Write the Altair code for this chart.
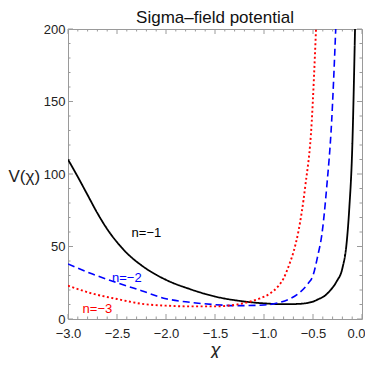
import altair as alt
import pandas as pd

# ---- data ----
chi_n1 = [-3.0, -2.9, -2.8, -2.7, -2.6, -2.5, -2.4, -2.25, -2.0, -1.75, -1.5, -1.25,
          -1.0, -0.8, -0.65, -0.5, -0.45, -0.38, -0.327, -0.258, -0.20, -0.156,
          -0.13, -0.099, -0.071]
v_n1 = [110, 98, 85.5, 73, 62, 53, 45.5, 37, 27, 20.5, 15.5, 12.5,
        10.8, 10.2, 10.4, 12, 13.5, 16, 19.5, 26, 35, 53,
        76, 119, 200]

chi_n2 = [-3.0, -2.75, -2.5, -2.25, -2.0, -1.75, -1.5, -1.25, -1.0, -0.85, -0.75,
          -0.65, -0.55, -0.5, -0.45, -0.41, -0.36, -0.31, -0.268]
v_n2 = [38, 31, 25, 19.5, 14, 11.5, 9.9, 9.2, 9.7, 11.2, 13.5,
        17.5, 24.5, 30, 44, 58, 91, 136, 200]

chi_n3 = [-3.0, -2.75, -2.5, -2.25, -2.0, -1.75, -1.5, -1.35, -1.2, -1.05, -0.94,
          -0.85, -0.8, -0.74, -0.7, -0.65, -0.58, -0.513, -0.469]
v_n3 = [23, 17.5, 13.8, 10.5, 9.2, 8.7, 8.7, 9.3, 11, 14, 17.5,
        23, 28, 38, 46, 60, 91, 136, 200]

series_names = ["n=−1", "n=−2", "n=−3"]
series_colors = ["#000000", "#0000ff", "#ff0000"]
series_dash = [[1, 0], [7, 4], [2, 2.5]]
series_width = [1.8, 1.6, 1.9]

label_chi = [-2.2, -2.4, -2.7]
label_v = [59, 28.5, 7]

x_major = [-3.0, -2.5, -2.0, -1.5, -1.0, -0.5, 0.0]
y_major = [0, 50, 100, 150, 200]
x_minor = [round(-3 + 0.1 * i, 2) for i in range(31) if i % 5 != 0]
y_minor = [10 * i for i in range(21) if i % 5 != 0]

W = 294
H = 290
FONT = "Liberation Sans"
FRAME = "#9a9a9a"

xs = alt.Scale(domain=[-3, 0], nice=False, zero=False)
ys = alt.Scale(domain=[0, 200], nice=False, zero=False)

x_axis = alt.Axis(values=x_major, format=".1f", ticks=False, tickSize=0,
                  domain=False, grid=False, labelFontSize=13, labelFlush=False,
                  labelFont=FONT, labelColor="#222222", labelPadding=8,
                  labelOffset={"condition": {"test": "datum.value == 0", "value": -6},
                               "value": 0},
                  title="χ", titleFont=FONT, titleFontSize=19,
                  titleFontStyle="italic", titleFontWeight="normal",
                  titleColor="#222222", titleBaseline="middle", titleY=30)
y_axis = alt.Axis(values=y_major, ticks=False, tickSize=0, domain=False,
                  grid=False, labelFontSize=13, labelFont=FONT, labelFlush=False,
                  labelColor="#222222", labelPadding=3,
                  title="V(χ)", titleFont=FONT, titleFontSize=17,
                  titleFontWeight="normal", titleColor="#222222",
                  titleAngle=0, titleAlign="left", titleBaseline="middle",
                  titleX=-60, titleY=147)


def X(field):
    return alt.X(field, scale=xs, axis=x_axis, title="χ")


def Y(field):
    return alt.Y(field, scale=ys, axis=y_axis, title="V(χ)")


layers = []

# frame ticks (inward, all four sides)
def tick_layer(vals, axis, side, length):
    d = pd.DataFrame({"chi" if axis == "x" else "V": vals})
    ch = alt.Chart(d).mark_rule(color=FRAME, strokeWidth=1)
    if axis == "x":
        enc = dict(x=X("chi:Q"))
        if side == "bottom":
            enc.update(y=alt.value(H), y2=alt.value(H - length))
        else:
            enc.update(y=alt.value(0), y2=alt.value(length))
    else:
        enc = dict(y=Y("V:Q"))
        if side == "left":
            enc.update(x=alt.value(0), x2=alt.value(length))
        else:
            enc.update(x=alt.value(W), x2=alt.value(W - length))
    return ch.encode(**enc)

for side in ["bottom", "top"]:
    layers.append(tick_layer(x_major, "x", side, 5))
    layers.append(tick_layer(x_minor, "x", side, 2.5))
for side in ["left", "right"]:
    layers.append(tick_layer(y_major, "y", side, 5))
    layers.append(tick_layer(y_minor, "y", side, 2.5))

# curves
curves = [(chi_n1, v_n1), (chi_n2, v_n2), (chi_n3, v_n3)]
for (cx, cv), name, col, dash, sw in zip(curves, series_names, series_colors,
                                          series_dash, series_width):
    d = pd.DataFrame({"chi": cx, "V": cv})
    layers.append(
        alt.Chart(d).mark_line(color=col, strokeDash=dash, strokeWidth=sw,
                               interpolate="monotone", clip=True).encode(
            x=X("chi:Q"),
            y=Y("V:Q"),
            order="chi:Q",
        )
    )

# curve labels
for name, col, lx, lv in zip(series_names, series_colors, label_chi, label_v):
    d = pd.DataFrame({"chi": [lx], "V": [lv], "t": [name]})
    layers.append(
        alt.Chart(d).mark_text(color=col, font=FONT, fontSize=13,
                               align="center", baseline="middle").encode(
            x=X("chi:Q"),
            y=Y("V:Q"),
            text="t:N",
        )
    )

chart = alt.layer(*layers).properties(
    width=W, height=H,
    title=alt.TitleParams("Sigma–field potential", font=FONT, fontSize=17,
                          fontWeight="normal", color="#111111", anchor="middle",
                          frame="group", offset=4, dy=8),
    autosize="none",
    padding={"left": 60, "top": 21, "right": 3, "bottom": 39},
).configure_view(stroke=FRAME, strokeWidth=1)

chart.save("out.html", embed_options={"renderer": "svg", "actions": False})
